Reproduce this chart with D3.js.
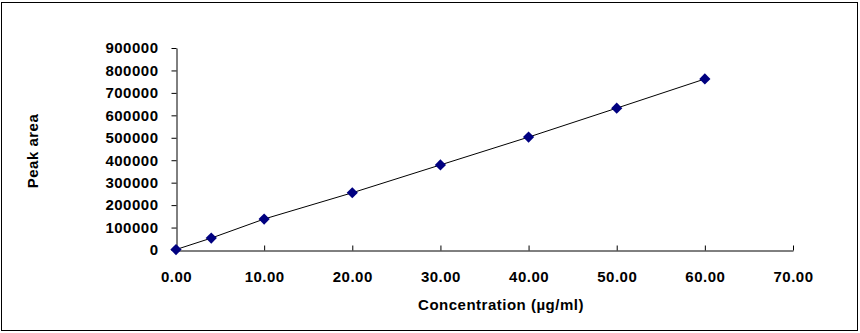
<!DOCTYPE html>
<html><head><meta charset="utf-8">
<script src="https://cdn.jsdelivr.net/npm/d3@7"></script>
<style>body{margin:0;background:#fff;} text{font-family:"Liberation Sans",Arial,sans-serif;font-weight:bold;}</style>
</head><body>
<svg id="c" width="860" height="333"></svg>
<script>
const concentration = [0, 4, 10, 20, 30, 40, 50, 60];
const peakArea = [2000, 53000, 138000, 255000, 379000, 503000, 632000, 762000];
const xTicks = [0, 10, 20, 30, 40, 50, 60, 70];
const yTicks = [0, 100000, 200000, 300000, 400000, 500000, 600000, 700000, 800000, 900000];
const xTitle = "Concentration (µg/ml)";
const yTitle = "Peak area";

const svg = d3.select("#c");
svg.append("rect").attr("x",1.5).attr("y",2.5).attr("width",856).attr("height",328)
  .attr("fill","#fff").attr("stroke","#000").attr("stroke-width",1);

const x = d3.scaleLinear().domain([0,70]).range([176,793]);
const y = d3.scaleLinear().domain([0,900000]).range([250,48]);

const gx = svg.append("g").attr("transform","translate(0,250.5)")
  .call(d3.axisBottom(x).tickValues(xTicks).tickFormat(d3.format(".2f")).tickSizeInner(-5).tickSizeOuter(0).tickPadding(21));
const gy = svg.append("g").attr("transform","translate(176.5,0)")
  .call(d3.axisLeft(y).tickValues(yTicks).tickFormat(d=>d).tickSizeInner(5).tickSizeOuter(0).tickPadding(13));
[gx,gy].forEach(g=>{
  g.selectAll("path,line").attr("stroke","#000").attr("stroke-width",1);
  g.selectAll("text").attr("fill","#000").style("font-size","15px").style("letter-spacing","0.5px");
});
gx.selectAll("text").attr("dy","0.71em");

const pts = concentration.map((c,i)=>[c,peakArea[i]]);
svg.append("path").datum(pts).attr("fill","none").attr("stroke","#000").attr("stroke-width",1)
  .attr("d", d3.line().x(d=>x(d[0])).y(d=>y(d[1])));
svg.append("g").selectAll("path").data(pts).join("path")
  .attr("transform",d=>`translate(${x(d[0])},${y(d[1])})`)
  .attr("d", d3.symbol(d3.symbolDiamond2 || d3.symbolDiamond, 80))
  .attr("fill","#000080");

svg.append("text").attr("x",501).attr("y",310).attr("text-anchor","middle")
  .style("font-size","15px").style("letter-spacing","0.5px").text(xTitle);
svg.append("text").attr("transform","translate(38,151) rotate(-90)").attr("text-anchor","middle")
  .style("font-size","15px").style("letter-spacing","0.5px").text(yTitle);
</script>
</body></html>
